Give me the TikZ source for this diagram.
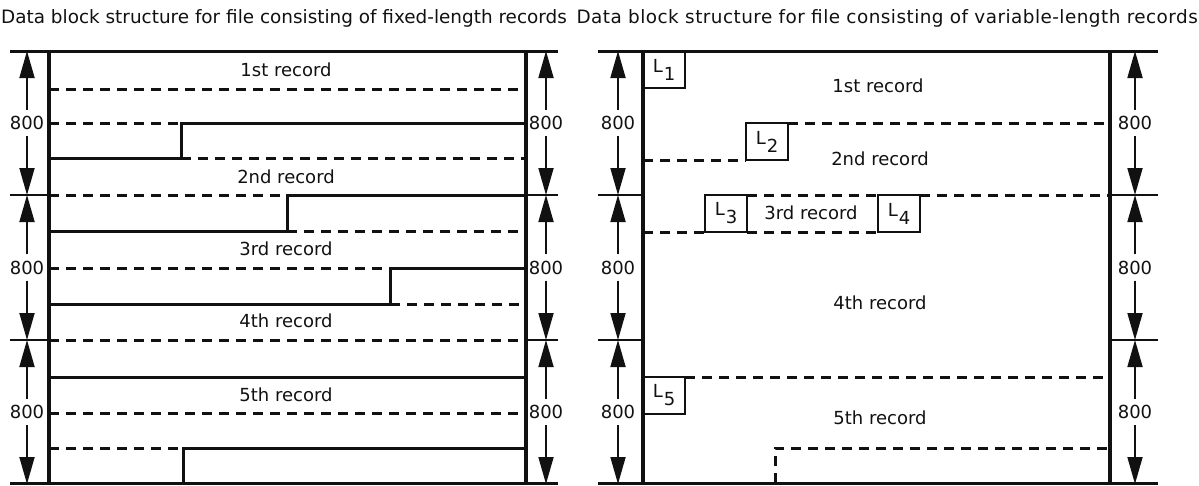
\documentclass[tikz,border=0pt]{standalone}
\usepackage{fontspec}
\setmainfont{DejaVu Sans}
\usepackage{xcolor}
\usepackage{tikz}
\usetikzlibrary{arrows.meta,positioning}
\definecolor{inkblack}{HTML}{111111}
\tikzset{
  wall/.style={draw=inkblack, line width=3.2pt},
  solidline/.style={draw=inkblack, line width=3pt},
  dashline/.style={draw=inkblack, line width=3pt, dash pattern=on 10pt off 7pt},
  tickline/.style={draw=inkblack, line width=2.4pt},
  dimarrow/.style={-{Triangle[length=27pt, width=15pt]}, draw=inkblack, fill=inkblack, line width=1.8pt},
  dimlabel/.style={text=inkblack, font=\fontsize{18}{18}\selectfont, inner xsep=0pt, inner ysep=6pt},
  reclabel/.style={text=inkblack, font=\fontsize{18}{18}\selectfont, inner sep=1pt},
  titletext/.style={text=inkblack, font=\fontsize{18.4}{20}\selectfont, inner sep=0pt},
  lenbox/.style={draw=inkblack, line width=2.6pt, minimum width=42pt, minimum height=37pt, inner sep=0pt, outer sep=0pt, text=inkblack, font=\fontsize{18}{18}\selectfont}
}
\newcommand{\lensub}[1]{L\kern1pt\raisebox{-8pt}{#1}}

\begin{document}
\begin{tikzpicture}[x=1pt, y=-1pt]
  \useasboundingbox (0,0) rectangle (1199,485);
  \node[titletext, anchor=west] (fixtitle) at (1,18) {Data block structure for file consisting of fixed-length records};
  \node[titletext, anchor=east] (vartitle) at (1198,18) {\addfontfeature{LetterSpace=2.5}Data block structure for file consisting of variable-length records};

  % fixed-length records
  \draw[wall] (49,51) -- (49,484);
  \draw[wall] (526,51) -- (526,484);
  \draw[solidline] (10,51) -- (558,51);
  \draw[solidline] (10,483) -- (558,483);
  \foreach \y in {195,340} {
    \draw[tickline] (10,\y) -- (49,\y);
    \draw[tickline] (526,\y) -- (558,\y);
  }
  \draw[dashline] (49,89) -- (526,89);
  \foreach \ya/\yb/\xs in {123/158/181,195/231/287,268/304/390} {
    \draw[dashline] (49,\ya) -- (\xs,\ya);
    \draw[dashline] (\xs,\yb) -- (526,\yb);
    \draw[solidline] (49,\yb) -- (\xs,\yb) -- (\xs,\ya) -- (526,\ya);
  }
  \draw[dashline] (49,340) -- (526,340);
  \draw[solidline] (49,377) -- (526,377);
  \draw[dashline] (49,413) -- (526,413);
  \draw[dashline] (49,448) -- (183,448);
  \draw[solidline] (183,483) -- (183,448) -- (526,448);
  \node[reclabel] (fix1) at (286,70) {1st record};
  \node[reclabel] (fix2) at (286,177) {2nd record};
  \node[reclabel] (fix3) at (286,249) {3rd record};
  \node[reclabel] (fix4) at (286,321) {4th record};
  \node[reclabel] (fix5) at (286,395) {5th record};

  % variable-length records
  \coordinate (lwall) at (643,0);
  \coordinate (rwall) at (1110,0);
  \draw[wall] (643,51) -- (643,484);
  \draw[wall] (1110,51) -- (1110,484);
  \draw[solidline] (598,51) -- (1158,51);
  \draw[solidline] (598,483) -- (1158,483);
  \foreach \y in {195,340} {
    \draw[tickline] (598,\y) -- (643,\y);
    \draw[tickline] (1110,\y) -- (1158,\y);
  }
  \node[lenbox, anchor=north west] (L1) at (643,51) {\lensub{1}};
  \node[lenbox, anchor=north west] (L2) at (746,123) {\lensub{2}};
  \node[lenbox, anchor=north west] (L3) at (705,195) {\lensub{3}};
  \node[lenbox, anchor=north west] (L4) at (878,195) {\lensub{4}};
  \node[lenbox, anchor=north west] (L5) at (643,377) {\lensub{5}};
  \draw[dashline] (L2.north east) -- (L2.north east -| rwall);
  \draw[dashline] (L2.south west -| lwall) -- (L2.south west);
  \draw[dashline] (L3.north east) -- (L4.north west);
  \draw[dashline] (L4.north east) -- (L4.north east -| rwall);
  \draw[dashline] (L3.south west -| lwall) -- (L3.south west);
  \draw[dashline] (L3.south east) -- (L4.south west);
  \draw[dashline] (L5.north east) -- (L5.north east -| rwall);
  \coordinate (v5step) at (775,448);
  \draw[dashline] (775,483) -- (v5step) -- (v5step -| rwall);
  \node[reclabel] (var1) at (878,86) {1st record};
  \node[reclabel] (var2) at (880,159) {2nd record};
  \node[reclabel] (var3) at (811,213) {3rd record};
  \node[reclabel] (var4) at (880,303) {4th record};
  \node[reclabel] (var5) at (880,418) {5th record};

  % 800 dimensions
  \foreach \dx in {27,546,618,1135} {
    \foreach \yt/\yb [count=\k] in {51/195,195/340,340/484} {
      \node[dimlabel] (dim\dx-\k) at (\dx,{(\yt+\yb)/2}) {800};
      \coordinate (top\dx-\k) at (\dx,\yt);
      \coordinate (bot\dx-\k) at (\dx,\yb);
      \draw[dimarrow] (dim\dx-\k) -- (top\dx-\k);
      \draw[dimarrow] (dim\dx-\k) -- (bot\dx-\k);
    }
  }
\end{tikzpicture}
\end{document}
